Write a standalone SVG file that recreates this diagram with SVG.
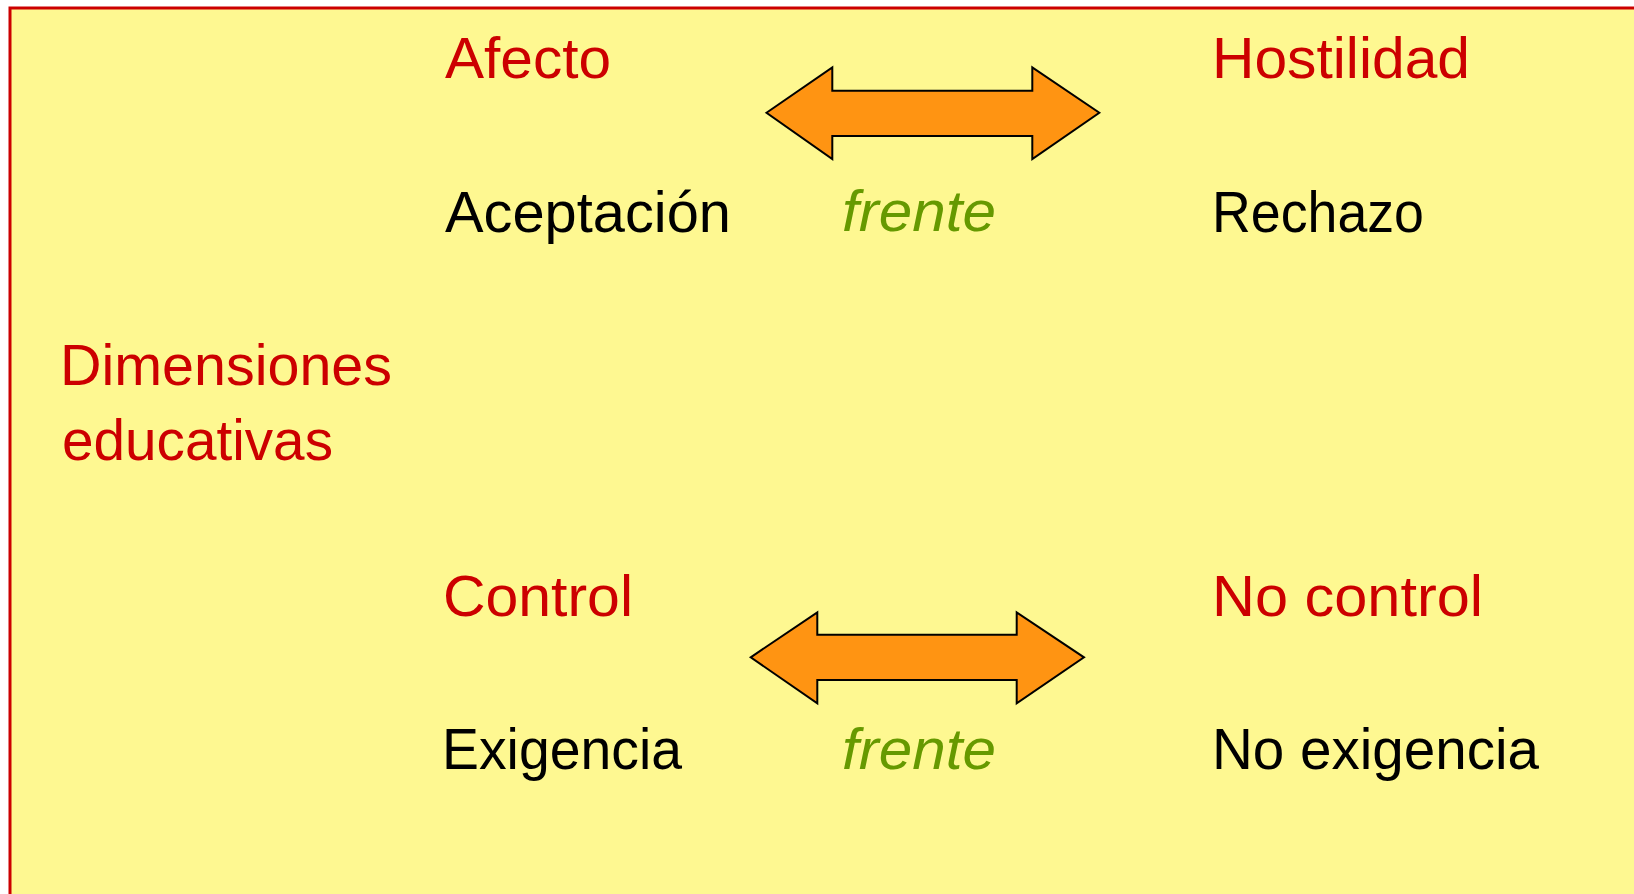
<svg xmlns="http://www.w3.org/2000/svg" width="1634" height="894" viewBox="0 0 1634 894">
<style>
text{font-family:"Liberation Sans",Arial,sans-serif;font-size:58px}
.r{fill:#CC0000}
.k{fill:#000000}
.g{fill:#669900;font-style:italic}
.arrow{fill:#FF9412;stroke:#000000;stroke-width:2;stroke-linejoin:miter}
</style>
<rect x="0" y="0" width="1634" height="894" fill="#FFFFFF"/>
<rect id="frame" x="10" y="8" width="1640" height="900" fill="#FEF891" stroke="#CC0000" stroke-width="3"/>
<g id="title"><text class="r" x="60" y="385" textLength="332" lengthAdjust="spacingAndGlyphs">Dimensiones</text><text class="r" x="62" y="460" textLength="271" lengthAdjust="spacingAndGlyphs">educativas</text></g>
<g id="afecto"><text class="r" x="445" y="78" textLength="166" lengthAdjust="spacingAndGlyphs">Afecto</text></g>
<g id="hostilidad"><text class="r" x="1212" y="78" textLength="258" lengthAdjust="spacingAndGlyphs">Hostilidad</text></g>
<g id="aceptacion"><text class="k" x="445" y="232" textLength="286" lengthAdjust="spacingAndGlyphs">Aceptación</text></g>
<g id="rechazo"><text class="k" x="1212" y="232" textLength="212" lengthAdjust="spacingAndGlyphs">Rechazo</text></g>
<g id="frente1"><text class="g" x="842" y="231" textLength="154" lengthAdjust="spacingAndGlyphs">frente</text></g>
<g id="control"><text class="r" x="443" y="616" textLength="190" lengthAdjust="spacingAndGlyphs">Control</text></g>
<g id="nocontrol"><text class="r" x="1212" y="616" textLength="271" lengthAdjust="spacingAndGlyphs">No control</text></g>
<g id="exigencia"><text class="k" x="442" y="769" textLength="240" lengthAdjust="spacingAndGlyphs">Exigencia</text></g>
<g id="noexigencia"><text class="k" x="1212" y="769" textLength="327" lengthAdjust="spacingAndGlyphs">No exigencia</text></g>
<g id="frente2"><text class="g" x="842" y="769" textLength="154" lengthAdjust="spacingAndGlyphs">frente</text></g>
<g id="connectors">
<polygon class="arrow" points="766.5,112.7 832.3,67.5 832.3,90.7 1032.3,90.7 1032.3,67.5 1099.3,112.7 1032.3,159 1032.3,136 832.3,136 832.3,159"/>
<polygon class="arrow" points="750.7,657.3 817.3,612.3 817.3,634.7 1016.7,634.7 1016.7,612.3 1084,657.3 1016.7,703.3 1016.7,680 817.3,680 817.3,703.3"/>
</g>
</svg>
